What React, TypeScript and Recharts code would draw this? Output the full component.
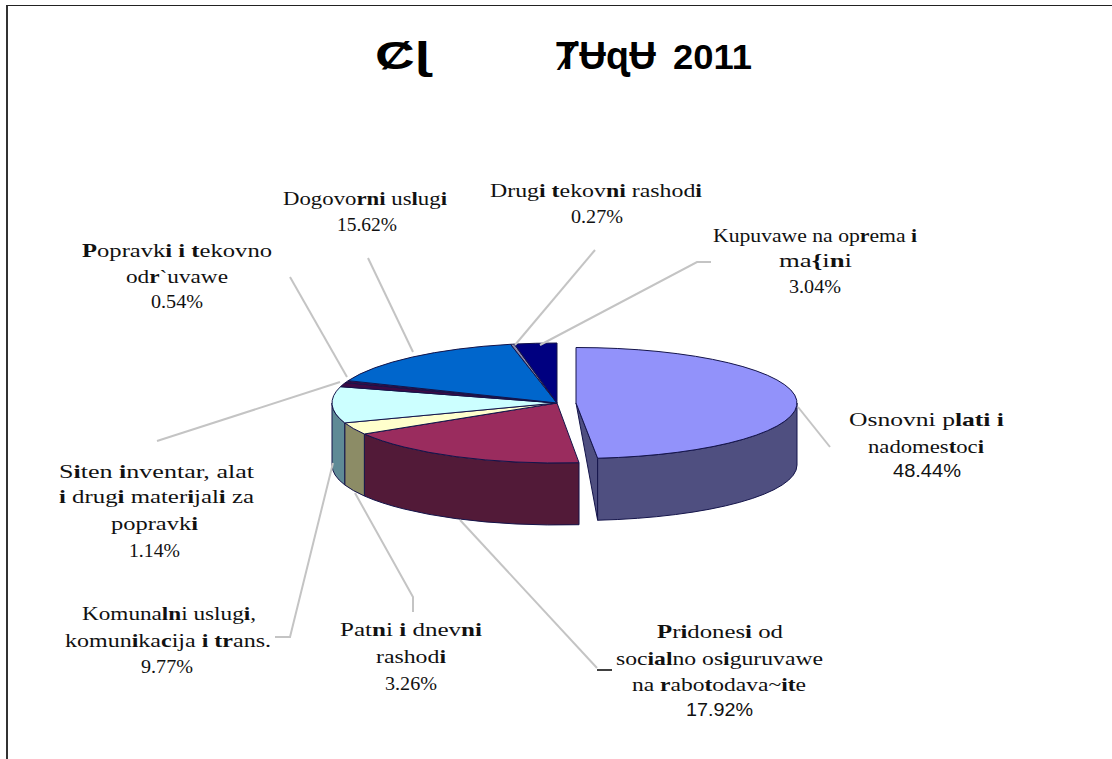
import React from 'react';
import { PieChart, Pie, Cell } from 'recharts';

// slice values in drawing order, clockwise from 12 o'clock
const categories = [
  'Osnovni plati i nadomestoci',
  'Pridonesi od socialno osiguruvawe na rabotodava~ite',
  'Patni i dnevni rashodi',
  'Komunalni uslugi, komunikacija i trans.',
  'Siten inventar, alat i drugi materijali za popravki',
  'Popravki i tekovno odr`uvawe',
  'Dogovorni uslugi',
  'Drugi tekovni rashodi',
  'Kupuvawe na oprema i ma{ini',
];
const values = [48.44, 17.92, 3.26, 9.77, 1.14, 0.54, 15.62, 0.27, 3.04];
const topColors = ['#9292fa', '#9a2c5e', '#ffffcc', '#ccffff', '#3c0a44', '#3c0a44', '#0066cc', '#8888aa', '#000080'];
const wallColors = ['#4f4f80', '#521a38', '#8c8c66', '#5f8a96', '#33053a', '#33053a', '#003a70', '#666680', '#000050'];

// label text, * toggles the bold letters of the original
const labelLines = [
  ['Osnovni p*lati i*', 'nadomes*t*oc*i*'],
  ['*P*r*i*dones*i* od', 'soc*ial*no os*i*guruvawe', 'na *r*abo*t*odava~*it*e'],
  ['Pat*n*i *i* dnev*ni*', 'rashod*i*'],
  ['Komuna*ln*i uslug*i*,', 'komun*i*ka*c*ija *i tr*ans.'],
  ['S*i*ten *i*nventar, alat', '*i* drug*i* mater*i*jal*i* za', 'popravk*i*'],
  ['*P*opravk*i i t*ekovno', 'od*r*`uvawe'],
  ['Dogovo*rni* us*l*ug*i*'],
  ['Drug*i t*ekov*ni* rashod*i*'],
  ['Kupuvawe na op*r*ema *i*', 'ma*{*i*n*i'],
];

// [left, right, baseline] for each text line, the last row is the percentage
const labelBoxes = [
  [[849, 1004, 426], [868, 984, 453], [893, 961, 477]],
  [[657, 783, 638], [616, 823, 665], [632, 806, 691], [686, 753, 716]],
  [[340, 482, 636], [376, 446, 663], [385, 437, 690]],
  [[82, 256, 620], [65, 271, 647], [141, 193, 673]],
  [[59, 254, 478], [59, 254, 503], [111, 198, 530], [129, 180, 557]],
  [[82, 272, 257], [126, 228, 283], [151, 203, 308]],
  [[283, 447, 205], [337, 397, 231]],
  [[490, 702, 197], [571, 623, 223]],
  [[713, 917, 242], [779, 852, 267], [789, 841, 293]],
];
const leaders = [
  [[798, 407], [830, 447]],
  [[460, 520], [597, 668]],
  [[355, 493], [413, 597], [413, 612]],
  [[333, 463], [290, 637], [275, 637]],
  [[340, 382], [157, 441]],
  [[347, 377], [290, 277]],
  [[413, 352], [368, 258]],
  [[515, 345], [595, 250]],
  [[540, 345], [697, 262], [711, 262]],
];
const sansValues = [0, 1];

const chartData = categories.map((name, i) => ({ name, value: values[i] }));

const DEPTH = 62;
const rad = (d: number) => (d * Math.PI) / 180;

const EllipseSlice = (props: any) => {
  const { cx, cy, outerRadius, startAngle, endAngle, index, fill } = props;
  // the pulled-out first slice is drawn a little smaller, as in the perspective of the original
  const isMain = index === 0;
  const rx = isMain ? outerRadius - 4 : outerRadius;
  const ry = isMain ? 55.5 : 60;
  const ox = cx + (isMain ? 19 : 0);
  const a1 = Math.max(startAngle, endAngle);
  const a2 = Math.min(startAngle, endAngle);
  const pt = (a: number, dy = 0) => `${ox + rx * Math.cos(rad(a))} ${cy - ry * Math.sin(rad(a)) + dy}`;
  const top = `M${ox} ${cy} L${pt(a1)} A${rx} ${ry} 0 ${a1 - a2 > 180 ? 1 : 0} 1 ${pt(a2)} Z`;

  // the outer wall is only seen on the front half of the ellipse
  const w1 = Math.min(a1, 0);
  const w2 = Math.max(a2, -180);
  const hasWall = w1 > w2;
  const wall = `M${pt(w1)} A${rx} ${ry} 0 0 1 ${pt(w2)} L${pt(w2, DEPTH)} A${rx} ${ry} 0 0 0 ${pt(w1, DEPTH)} Z`;

  return (
    <g>
      {isMain && (
        <path d={`M${ox} ${cy} L${pt(a2)} L${pt(a2, DEPTH)} Z`} fill={wallColors[0]} stroke="#14144a" strokeWidth={1} />
      )}
      {hasWall && <path d={wall} fill={wallColors[index]} stroke="#14144a" strokeWidth={1} />}
      <path d={top} fill={fill} stroke="#14144a" strokeWidth={1} />
    </g>
  );
};

const boldRuns = (line: string) =>
  line.split('*').map((part, i) => (
    <tspan key={i} fontWeight={i % 2 === 1 ? 'bold' : 'normal'}>
      {part}
    </tspan>
  ));

const SliceLabel = (props: any) => {
  const i = props.index;
  const boxes = labelBoxes[i];
  const isSans = sansValues.includes(i);
  const last = boxes[labelLines[i].length];
  return (
    <g>
      <polyline
        points={leaders[i].map((p) => p.join(',')).join(' ')}
        fill="none"
        stroke="#c4c4c4"
        strokeWidth={2}
      />
      {i === 1 && <line x1={597} y1={670} x2={612} y2={670} stroke="#000" strokeWidth={1.5} />}
      {labelLines[i].map((line, j) => (
        <text
          key={j}
          x={boxes[j][0]}
          y={boxes[j][2]}
          textLength={boxes[j][1] - boxes[j][0]}
          lengthAdjust="spacingAndGlyphs"
          fontFamily="Liberation Serif"
          fontSize={19}
          fill="#111"
        >
          {boldRuns(line)}
        </text>
      ))}
      <text
        x={last[0]}
        y={last[2]}
        textLength={last[1] - last[0]}
        lengthAdjust="spacingAndGlyphs"
        fontFamily={isSans ? 'Liberation Sans' : 'Liberation Serif'}
        fontSize={isSans ? 17.5 : 19}
        fill="#111"
      >
        {values[i].toFixed(2)}%
      </text>
    </g>
  );
};

const titleStyle = { fontFamily: 'Liberation Sans, DejaVu Sans', fontWeight: 'bold' as const, fill: '#000' };

export default function App() {
  return (
    <div style={{ position: 'relative', width: 1112, height: 759, overflow: 'hidden', background: '#fff' }}>
      <style>{'body{margin:0}'}</style>
      <div style={{ position: 'absolute', left: 6, top: 5, right: 0, bottom: 0, borderLeft: '2px solid #333', borderTop: '1.5px solid #222' }} />
      <div style={{ position: 'absolute', left: 0, top: 0 }}>
        <PieChart width={1112} height={759} margin={{ top: 0, right: 0, bottom: 0, left: 0 }}>
          <text x={375} y={69} fontSize={38} textLength={55} lengthAdjust="spacingAndGlyphs" {...titleStyle}>Ȼɭ</text>
          <text x={556} y={69} fontSize={38} textLength={100} lengthAdjust="spacingAndGlyphs" {...titleStyle}>ȾɄɋɄ</text>
          <text x={673} y={69} fontSize={35} textLength={79} lengthAdjust="spacingAndGlyphs" {...titleStyle}>2011</text>
          <Pie
            data={chartData}
            dataKey="value"
            nameKey="name"
            cx={557}
            cy={403}
            outerRadius={225}
            startAngle={90}
            endAngle={-270}
            stroke="none"
            shape={EllipseSlice}
            label={SliceLabel}
            labelLine={false}
            isAnimationActive={false}
          >
            {chartData.map((d, i) => (
              <Cell key={d.name} fill={topColors[i]} />
            ))}
          </Pie>
        </PieChart>
      </div>
    </div>
  );
}
